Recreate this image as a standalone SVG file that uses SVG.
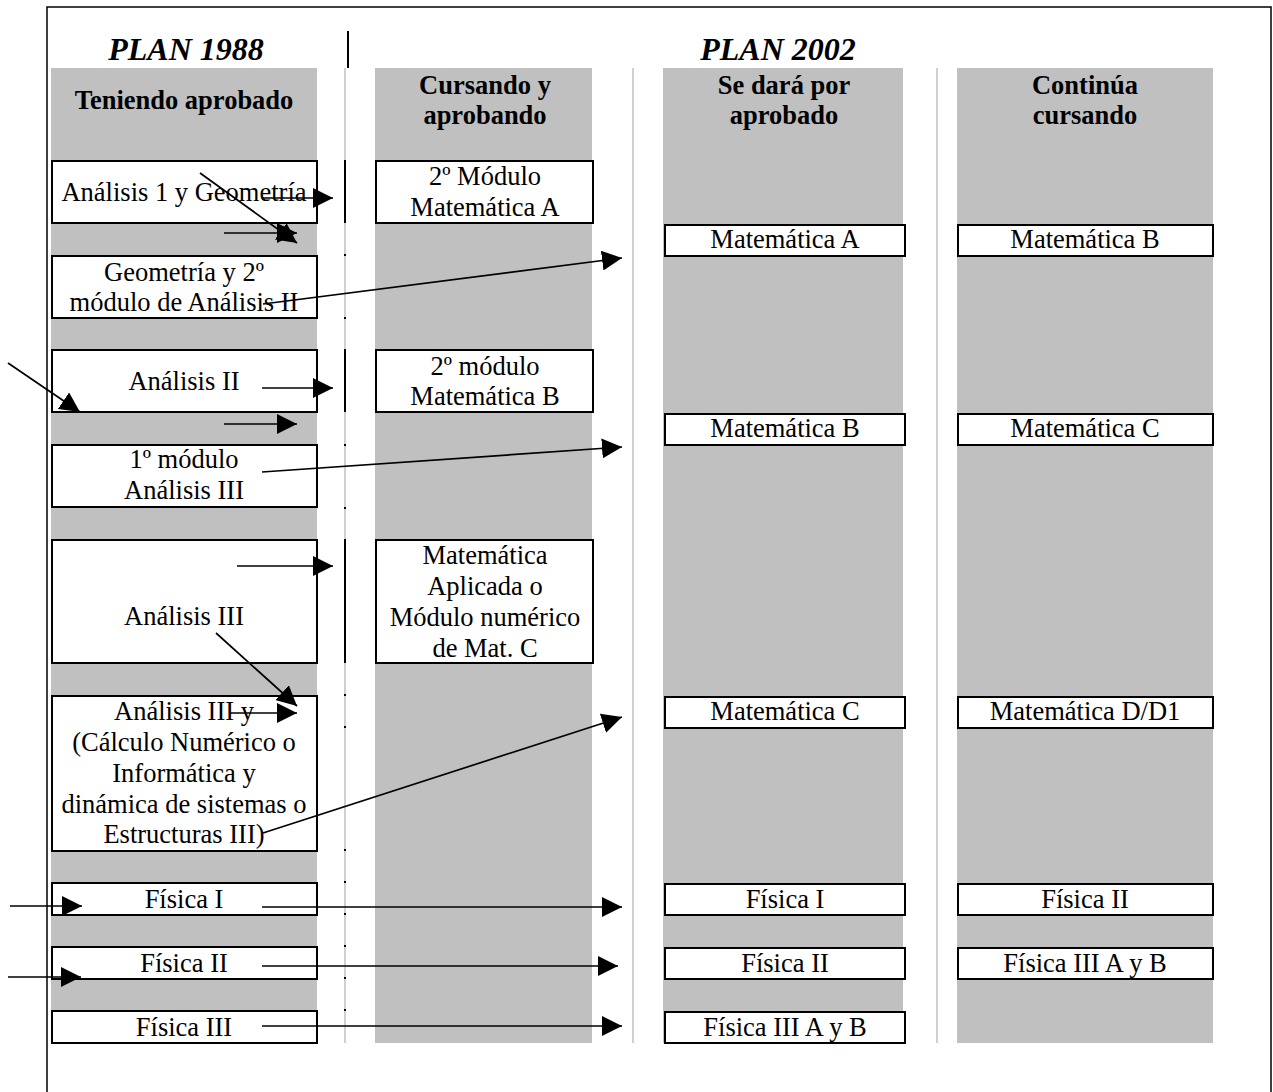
<svg xmlns="http://www.w3.org/2000/svg" width="1273" height="1092" viewBox="0 0 1273 1092">
<defs>
<marker id="ah" viewBox="0 0 20 20" refX="20" refY="10" markerWidth="20" markerHeight="20" markerUnits="userSpaceOnUse" orient="auto"><path d="M0,0 L20,10 L0,20 z" fill="#000"/></marker>
<style>
.col{fill:#c0c0c0}
.sep{stroke:#c0c0c0;stroke-width:1.5}
.box{fill:#fff;stroke:#000;stroke-width:2}
.t{font-family:"Liberation Serif","Times New Roman",serif;font-size:26.5px;fill:#000;text-anchor:middle}
.h{font-weight:bold}
.p{font-family:"Liberation Serif","Times New Roman",serif;font-size:32px;font-weight:bold;font-style:italic;text-anchor:middle}
.a{stroke:#000;stroke-width:1.7;fill:none;marker-end:url(#ah)}
.tk{stroke:#000;stroke-width:2}
</style>
</defs>
<rect width="1273" height="1092" fill="#fff"/>
<g id="frame">
<polyline points="47,1092 47,7 1271,7 1271,1092" fill="none" stroke="#000" stroke-width="1.5"/>
<line x1="348" y1="31" x2="348" y2="68" stroke="#000" stroke-width="2"/>
<text class="p" x="186" y="60">PLAN 1988</text>
<text class="p" x="778" y="60">PLAN 2002</text>
</g>
<g id="columns">
<rect class="col" x="51" y="68" width="266" height="975"/>
<rect class="col" x="375" y="68" width="217" height="975"/>
<rect class="col" x="663" y="68" width="240" height="975"/>
<rect class="col" x="957" y="68" width="256" height="975"/>
<line class="sep" x1="345" y1="68" x2="345" y2="1043"/>
<line class="sep" x1="633" y1="68" x2="633" y2="1043"/>
<line class="sep" x1="937" y1="68" x2="937" y2="1043"/>
<line class="tk" x1="345" y1="160" x2="345" y2="223"/>
<line class="tk" x1="345" y1="349" x2="345" y2="412"/>
<line class="tk" x1="345" y1="539" x2="345" y2="663"/>
<path class="tk" d="M344,255h2M344,318h2M344,445h2M344,508h2M344,695h2M344,727h2M344,850h2M344,882h2M344,914h2M344,946h2M344,978h2M344,1010h2"/>
</g>
<g id="headers">
<text class="t h" x="184" y="109">Teniendo aprobado</text>
<text class="t h" x="485" y="94">Cursando y</text>
<text class="t h" x="485" y="124">aprobando</text>
<text class="t h" x="784" y="94">Se dará por</text>
<text class="t h" x="784" y="124">aprobado</text>
<text class="t h" x="1085" y="94">Continúa</text>
<text class="t h" x="1085" y="124">cursando</text>
</g>
<g id="n-analisis1-geometria"><rect class="box" x="52" y="161" width="265" height="62"/><text class="t" x="184" y="201">Análisis 1 y Geometría</text></g>
<g id="n-geometria-2modulo"><rect class="box" x="52" y="256" width="265" height="62"/><text class="t" x="184" y="281">Geometría y 2º</text><text class="t" x="184" y="311">módulo de Análisis II</text></g>
<g id="n-analisis2"><rect class="box" x="52" y="350" width="265" height="62"/><text class="t" x="184" y="390">Análisis II</text></g>
<g id="n-1modulo-analisis3"><rect class="box" x="52" y="445" width="265" height="62"/><text class="t" x="184" y="468">1º módulo</text><text class="t" x="184" y="499">Análisis III</text></g>
<g id="n-analisis3"><rect class="box" x="52" y="540" width="265" height="123"/><text class="t" x="184" y="625">Análisis III</text></g>
<g id="n-analisis3-y"><rect class="box" x="52" y="696" width="265" height="155"/><text class="t" x="184" y="720">Análisis III y</text><text class="t" x="184" y="751">(Cálculo Numérico o</text><text class="t" x="184" y="782">Informática y</text><text class="t" x="184" y="813">dinámica de sistemas o</text><text class="t" x="184" y="843">Estructuras III)</text></g>
<g id="n-fisica1-88"><rect class="box" x="52" y="883" width="265" height="32"/><text class="t" x="184" y="908">Física I</text></g>
<g id="n-fisica2-88"><rect class="box" x="52" y="947" width="265" height="32"/><text class="t" x="184" y="972">Física II</text></g>
<g id="n-fisica3-88"><rect class="box" x="52" y="1011" width="265" height="32"/><text class="t" x="184" y="1036">Física III</text></g>
<g id="n-2modulo-matA"><rect class="box" x="376" y="161" width="217" height="62"/><text class="t" x="485" y="185">2º Módulo</text><text class="t" x="485" y="216">Matemática A</text></g>
<g id="n-2modulo-matB"><rect class="box" x="376" y="350" width="217" height="62"/><text class="t" x="485" y="375">2º módulo</text><text class="t" x="485" y="405">Matemática B</text></g>
<g id="n-mat-aplicada"><rect class="box" x="376" y="540" width="217" height="123"/><text class="t" x="485" y="564">Matemática</text><text class="t" x="485" y="595">Aplicada o</text><text class="t" x="485" y="626">Módulo numérico</text><text class="t" x="485" y="657">de Mat. C</text></g>
<g id="n-aprob-matA"><rect class="box" x="665" y="225" width="240" height="31"/><text class="t" x="785" y="248">Matemática A</text></g>
<g id="n-aprob-matB"><rect class="box" x="665" y="414" width="240" height="31"/><text class="t" x="785" y="437">Matemática B</text></g>
<g id="n-aprob-matC"><rect class="box" x="665" y="697" width="240" height="31"/><text class="t" x="785" y="720">Matemática C</text></g>
<g id="n-aprob-fis1"><rect class="box" x="665" y="884" width="240" height="31"/><text class="t" x="785" y="908">Física I</text></g>
<g id="n-aprob-fis2"><rect class="box" x="665" y="948" width="240" height="31"/><text class="t" x="785" y="972">Física II</text></g>
<g id="n-aprob-fis3"><rect class="box" x="665" y="1012" width="240" height="31"/><text class="t" x="785" y="1036">Física III A y B</text></g>
<g id="n-cont-matB"><rect class="box" x="958" y="225" width="255" height="31"/><text class="t" x="1085" y="248">Matemática B</text></g>
<g id="n-cont-matC"><rect class="box" x="958" y="414" width="255" height="31"/><text class="t" x="1085" y="437">Matemática C</text></g>
<g id="n-cont-matD"><rect class="box" x="958" y="697" width="255" height="31"/><text class="t" x="1085" y="720">Matemática D/D1</text></g>
<g id="n-cont-fis2"><rect class="box" x="958" y="884" width="255" height="31"/><text class="t" x="1085" y="908">Física II</text></g>
<g id="n-cont-fis3"><rect class="box" x="958" y="948" width="255" height="31"/><text class="t" x="1085" y="972">Física III A y B</text></g>
<g id="connectors">
<line class="a" x1="262" y1="198" x2="333" y2="198"/>
<line class="a" x1="200" y1="173" x2="297" y2="243"/>
<line class="a" x1="224" y1="233" x2="297" y2="233"/>
<line class="a" x1="263" y1="304" x2="622" y2="258"/>
<line class="a" x1="8" y1="363" x2="80" y2="412"/>
<line class="a" x1="262" y1="388" x2="333" y2="388"/>
<line class="a" x1="224" y1="424" x2="297" y2="424"/>
<line class="a" x1="262" y1="472" x2="622" y2="447"/>
<line class="a" x1="237" y1="566" x2="333" y2="566"/>
<line class="a" x1="216" y1="633" x2="297" y2="706"/>
<line class="a" x1="229" y1="713" x2="297" y2="713"/>
<line class="a" x1="263" y1="833" x2="622" y2="717"/>
<line class="a" x1="10" y1="906" x2="82" y2="906"/>
<line class="a" x1="262" y1="907" x2="622" y2="907"/>
<line class="a" x1="8" y1="977" x2="81" y2="977"/>
<line class="a" x1="262" y1="966" x2="618" y2="966"/>
<line class="a" x1="262" y1="1026" x2="622" y2="1026"/>
</g>
</svg>
